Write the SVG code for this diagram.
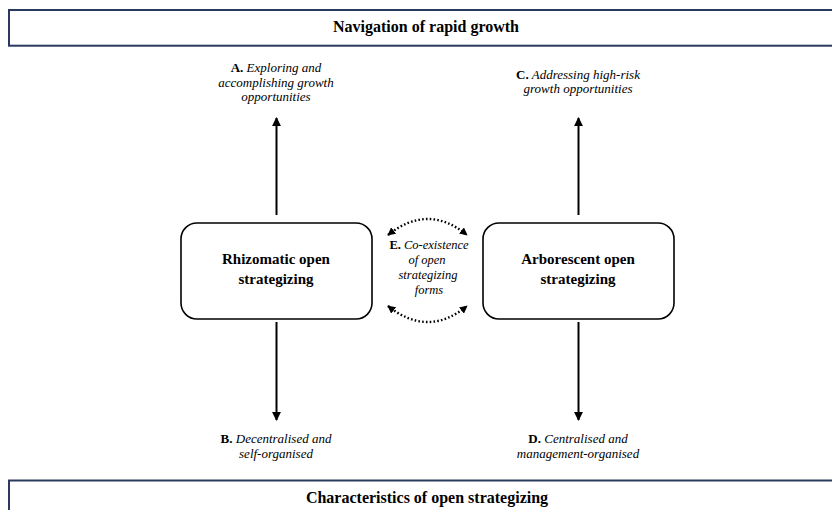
<svg xmlns="http://www.w3.org/2000/svg" width="832" height="510" viewBox="0 0 832 510">
<style>
.band{fill:#fff;stroke:#2a3a5e;stroke-width:2}
.node{fill:#fff;stroke:#000;stroke-width:1.6}
.t{font-family:"Liberation Serif","Times New Roman",serif;fill:#000;text-anchor:middle}
.title{font-size:16px;font-weight:bold}
.nl{font-size:15px;font-weight:bold}
.lab{font-size:13px;font-style:italic}
.lab .k{font-weight:bold;font-style:normal}
.e{font-size:12.5px;font-style:italic}
.e .k{font-weight:bold;font-style:normal}
.arr{stroke:#000;stroke-width:2;fill:none}
.dot{stroke:#000;stroke-width:2.4;fill:none;stroke-dasharray:1.6 2.2}
</style>
<defs>
<marker id="ah" viewBox="0 0 10 10" refX="9" refY="5" markerWidth="9" markerHeight="9" markerUnits="userSpaceOnUse" orient="auto">
<path d="M0,0 L10,5 L0,10 z" fill="#000"/>
</marker>
<marker id="dh" viewBox="0 0 10 10" refX="9" refY="5" markerWidth="8" markerHeight="8" markerUnits="userSpaceOnUse" orient="auto-start-reverse">
<path d="M0,0 L10,5 L0,10 z" fill="#000"/>
</marker>
</defs>
<rect width="832" height="510" fill="#fff"/>

<g id="top-band">
<rect class="band" x="9" y="10" width="830" height="35.7"/>
<text class="t title" x="426" y="32">Navigation of rapid growth</text>
</g>

<g id="bottom-band">
<rect class="band" x="9" y="480.5" width="830" height="40"/>
<text class="t title" x="427" y="503">Characteristics of open strategizing</text>
</g>

<g id="rhizomatic">
<rect class="node" x="181" y="223" width="191" height="96" rx="16" ry="16"/>
<text class="t nl" x="276" y="264">Rhizomatic open</text>
<text class="t nl" x="276" y="284">strategizing</text>
</g>

<g id="arborescent">
<rect class="node" x="483" y="223" width="191" height="96" rx="16" ry="16"/>
<text class="t nl" x="578" y="264">Arborescent open</text>
<text class="t nl" x="578" y="284">strategizing</text>
</g>

<g id="label-a">
<text class="t lab" x="276" y="72"><tspan class="k">A.</tspan> Exploring and</text>
<text class="t lab" x="276" y="86.5">accomplishing growth</text>
<text class="t lab" x="276" y="100.5">opportunities</text>
</g>

<g id="label-c">
<text class="t lab" x="578" y="78.5"><tspan class="k">C.</tspan> Addressing high-risk</text>
<text class="t lab" x="578" y="93">growth opportunities</text>
</g>

<g id="label-b">
<text class="t lab" x="276" y="443"><tspan class="k">B.</tspan> Decentralised and</text>
<text class="t lab" x="276" y="458">self-organised</text>
</g>

<g id="label-d">
<text class="t lab" x="578" y="443"><tspan class="k">D.</tspan> Centralised and</text>
<text class="t lab" x="578" y="458">management-organised</text>
</g>

<g id="label-e">
<text class="t e" x="429" y="249"><tspan class="k">E.</tspan> Co-existence</text>
<text class="t e" x="427" y="264">of open</text>
<text class="t e" x="428" y="279">strategizing</text>
<text class="t e" x="429" y="294">forms</text>
</g>

<g id="connectors">
<line class="arr" x1="276.5" y1="215" x2="276.5" y2="118" marker-end="url(#ah)"/>
<line class="arr" x1="276.5" y1="322" x2="276.5" y2="420" marker-end="url(#ah)"/>
<line class="arr" x1="578.5" y1="215" x2="578.5" y2="118" marker-end="url(#ah)"/>
<line class="arr" x1="578.5" y1="322" x2="578.5" y2="420" marker-end="url(#ah)"/>
<path class="dot" d="M388,235 Q428,203 467,235" marker-start="url(#dh)" marker-end="url(#dh)"/>
<path class="dot" d="M388,306 Q428,338 467,306" marker-start="url(#dh)" marker-end="url(#dh)"/>
</g>
</svg>
